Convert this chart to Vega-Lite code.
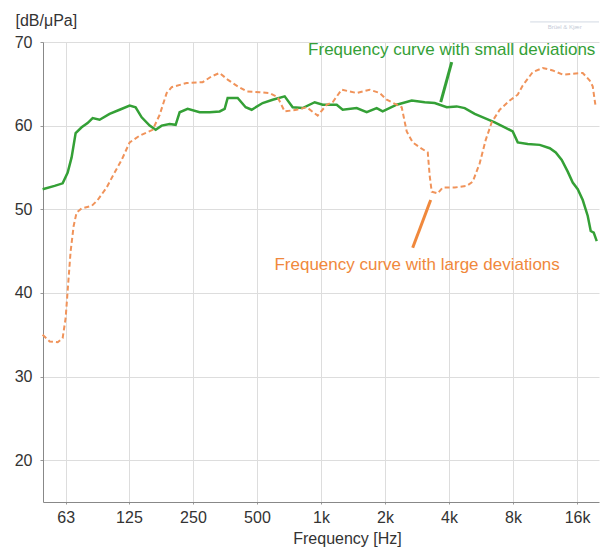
{
  "$schema": "https://vega.github.io/schema/vega-lite/v6.json",
  "width": 556,
  "height": 460,
  "autosize": "none",
  "padding": {"left": 43, "top": 42, "right": 10, "bottom": 46},
  "background": "white",
  "config": {"view": {"stroke": null}, "font": "Liberation Sans"},
  "datasets": {
    "small": [
      {"f":49.1,"db":52.4},{"f":55.9,"db":52.8},{"f":61.0,"db":53.1},{"f":64.4,"db":54.4},{"f":67.2,"db":56.2},{"f":70.2,"db":59.1},{"f":74.9,"db":59.8},{"f":79.9,"db":60.3},{"f":84.4,"db":60.9},{"f":91.0,"db":60.7},{"f":101.4,"db":61.4},{"f":113.0,"db":61.9},{"f":126.0,"db":62.4},{"f":134.4,"db":62.2},{"f":143.5,"db":61.0},{"f":156.5,"db":60.0},{"f":167.0,"db":59.5},{"f":178.2,"db":60.0},{"f":194.2,"db":60.2},{"f":207.3,"db":60.1},{"f":216.5,"db":61.6},{"f":236.1,"db":62.0},{"f":268.9,"db":61.6},{"f":299.7,"db":61.6},{"f":333.9,"db":61.7},{"f":352.5,"db":62.0},{"f":364.1,"db":63.3},{"f":405.8,"db":63.3},{"f":442.5,"db":62.2},{"f":472.3,"db":61.9},{"f":531.9,"db":62.7},{"f":592.8,"db":63.1},{"f":675.1,"db":63.5},{"f":736.1,"db":62.2},{"f":820.5,"db":62.1},{"f":934.3,"db":62.8},{"f":1018.8,"db":62.5},{"f":1185.8,"db":62.5},{"f":1265.3,"db":61.9},{"f":1472,"db":62.1},{"f":1641,"db":61.6},{"f":1828,"db":62.1},{"f":1951,"db":61.7},{"f":2270,"db":62.5},{"f":2672,"db":63.0},{"f":3075,"db":62.8},{"f":3427,"db":62.7},{"f":3903,"db":62.2},{"f":4349,"db":62.3},{"f":4743,"db":62.1},{"f":5285,"db":61.4},{"f":5890,"db":60.9},{"f":6564,"db":60.4},{"f":7314,"db":59.8},{"f":7977,"db":59.3},{"f":8420,"db":58.0},{"f":9383,"db":57.8},{"f":10686,"db":57.7},{"f":11910,"db":57.3},{"f":12710,"db":56.8},{"f":13560,"db":55.9},{"f":14470,"db":54.5},{"f":15275,"db":53.2},{"f":16125,"db":52.4},{"f":17023,"db":51.1},{"f":17970,"db":49.2},{"f":18560,"db":47.4},{"f":19174,"db":47.2},{"f":19807,"db":46.2}
    ],
    "large": [
      {"f":49.1,"db":35.0},{"f":53.0,"db":34.2},{"f":57.8,"db":34.1},{"f":61.0,"db":34.6},{"f":63.0,"db":37.0},{"f":64.4,"db":40.3},{"f":66.5,"db":45.0},{"f":68.7,"db":48.0},{"f":70.9,"db":49.6},{"f":74.9,"db":50.1},{"f":83.5,"db":50.4},{"f":89.1,"db":51.1},{"f":98.2,"db":52.6},{"f":107.1,"db":54.4},{"f":115.5,"db":55.9},{"f":126.0,"db":58.0},{"f":140.4,"db":58.8},{"f":161.6,"db":59.5},{"f":174.4,"db":61.3},{"f":188.1,"db":63.9},{"f":198.6,"db":64.6},{"f":233.6,"db":65.1},{"f":277.8,"db":65.2},{"f":306.2,"db":65.9},{"f":333.9,"db":66.3},{"f":364.1,"db":65.5},{"f":405.8,"db":64.7},{"f":447.3,"db":64.1},{"f":515.1,"db":64.0},{"f":573.9,"db":63.9},{"f":625.7,"db":63.4},{"f":675.1,"db":61.7},{"f":768.7,"db":61.9},{"f":856.8,"db":62.2},{"f":965.0,"db":61.2},{"f":1064,"db":62.5},{"f":1135,"db":62.8},{"f":1251,"db":64.3},{"f":1472,"db":63.9},{"f":1694,"db":64.3},{"f":1889,"db":63.9},{"f":2038,"db":63.1},{"f":2270,"db":62.5},{"f":2397,"db":62.2},{"f":2531,"db":59.3},{"f":2700,"db":58.0},{"f":2914,"db":57.4},{"f":3178,"db":56.8},{"f":3246,"db":54.0},{"f":3317,"db":52.1},{"f":3540,"db":51.9},{"f":3737,"db":52.6},{"f":4256,"db":52.6},{"f":4846,"db":52.8},{"f":5174,"db":53.3},{"f":5579,"db":55.5},{"f":5955,"db":58.3},{"f":6355,"db":60.4},{"f":6929,"db":61.9},{"f":7720,"db":63.0},{"f":8420,"db":63.7},{"f":8888,"db":64.8},{"f":9905,"db":66.4},{"f":11038,"db":66.9},{"f":12300,"db":66.6},{"f":13708,"db":66.1},{"f":15275,"db":66.2},{"f":17023,"db":66.3},{"f":18363,"db":65.4},{"f":18967,"db":64.7},{"f":19594,"db":62.2}
    ],
    "notes": [
      {"f":4120,"db":69.1,"label":"Frequency curve with small deviations","series":"small"},
      {"f":2833,"db":43.3,"label":"Frequency curve with large deviations","series":"large"}
    ],
    "pointers": [
      {"f":4120,"db":67.6,"f2":3658,"db2":62.8,"series":"small"},
      {"f":3281,"db":51.1,"f2":2700,"db2":45.4,"series":"large"}
    ],
    "logo": [
      {"f":14000,"db":71.8,"label":"Brüel & Kjær"}
    ],
    "logoline": [
      {"f":9630,"f2":20300,"db":72.4}
    ]
  },
  "layer": [
    {
      "data": {"name": "small"},
      "mark": {"type": "line", "color": "#34a036", "strokeWidth": 2.5, "interpolate": "linear"},
      "encoding": {
        "x": {
          "field": "f", "type": "quantitative",
          "scale": {"type": "log", "domain": [49.3, 20300], "nice": false},
          "axis": {
            "values": [63, 125, 250, 500, 1000, 2000, 4000, 8000, 16000],
            "labelExpr": "datum.value >= 1000 ? (datum.value/1000) + 'k' : datum.value",
            "title": "Frequency [Hz]",
            "titleFontSize": 16, "titleFontWeight": "normal", "titleColor": "#333333",
            "titleX": 304, "titleY": 36, "titleAlign": "center", "titleBaseline": "middle",
            "labelFontSize": 16, "labelColor": "#333333", "labelPadding": 5,
            "tickSize": 2, "tickColor": "#999999",
            "domainColor": "#888888", "gridColor": "#dddddd", "grid": true
          }
        },
        "y": {
          "field": "db", "type": "quantitative",
          "scale": {"domain": [15, 70], "nice": false},
          "axis": {
            "values": [20, 30, 40, 50, 60, 70],
            "title": "[dB/μPa]",
            "titleFontSize": 16, "titleFontWeight": "normal", "titleColor": "#333333",
            "titleAngle": 0, "titleX": -28, "titleY": -22, "titleAlign": "left", "titleBaseline": "middle",
            "labelFontSize": 16, "labelColor": "#333333", "labelPadding": 8,
            "tickSize": 3, "tickColor": "#999999",
            "domainColor": "#888888", "gridColor": "#dddddd", "grid": true
          }
        }
      }
    },
    {
      "data": {"name": "large"},
      "mark": {"type": "line", "color": "#f0935a", "strokeWidth": 2, "strokeDash": [5, 3]},
      "encoding": {
        "x": {"field": "f", "type": "quantitative"},
        "y": {"field": "db", "type": "quantitative"}
      }
    },
    {
      "data": {"name": "pointers"},
      "mark": {"type": "rule", "strokeWidth": 3},
      "encoding": {
        "x": {"field": "f", "type": "quantitative"},
        "y": {"field": "db", "type": "quantitative"},
        "x2": {"field": "f2"},
        "y2": {"field": "db2"},
        "color": {"field": "series", "type": "nominal", "scale": {"domain": ["small", "large"], "range": ["#34a036", "#f0883c"]}, "legend": null}
      }
    },
    {
      "data": {"name": "notes"},
      "mark": {"type": "text", "fontSize": 17, "align": "center", "baseline": "middle"},
      "encoding": {
        "x": {"field": "f", "type": "quantitative"},
        "y": {"field": "db", "type": "quantitative"},
        "text": {"field": "label"},
        "color": {"field": "series", "type": "nominal", "legend": null}
      }
    },
    {
      "data": {"name": "logoline"},
      "mark": {"type": "rule", "strokeWidth": 1, "color": "#d3d9e3"},
      "encoding": {
        "x": {"field": "f", "type": "quantitative"},
        "x2": {"field": "f2"},
        "y": {"field": "db", "type": "quantitative"}
      }
    },
    {
      "data": {"name": "logo"},
      "mark": {"type": "text", "fontSize": 6, "align": "center", "baseline": "middle", "color": "#c5ccd8"},
      "encoding": {
        "x": {"field": "f", "type": "quantitative"},
        "y": {"field": "db", "type": "quantitative"},
        "text": {"field": "label"}
      }
    }
  ]
}
